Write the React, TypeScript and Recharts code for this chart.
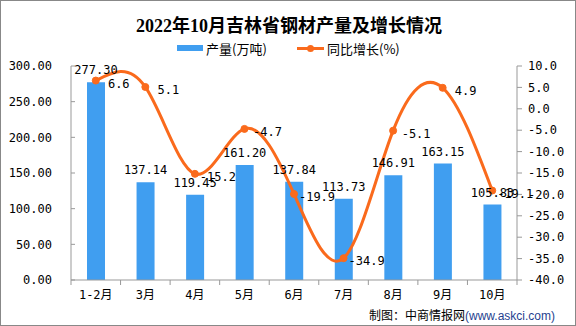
import { ComposedChart, Bar, Line, XAxis, YAxis, LabelList } from 'recharts';

const months = ['1-2月', '3月', '4月', '5月', '6月', '7月', '8月', '9月', '10月'];
const output = [277.3, 137.14, 119.45, 161.2, 137.84, 113.73, 146.91, 163.15, 105.83];
const growth = [6.6, 5.1, -15.2, -4.7, -19.9, -34.9, -5.1, 4.9, -19.1];
const leftTicks = [0, 50, 100, 150, 200, 250, 300];
const rightTicks = [-40, -35, -30, -25, -20, -15, -10, -5, 0, 5, 10];

const data = months.map((m, i) => ({ month: m, output: output[i], growth: growth[i] }));

const BLUE = '#409ef0';
const ORANGE = '#fa6a1c';
const AXIS = '#999';
const NUM_FONT = '"DejaVu Sans Mono", "Noto Sans CJK SC", monospace';
const BAND = (517 - 71) / months.length;

function XTick(props: any) {
  const { x, y, payload, index } = props;
  return (
    <g>
      <line x1={x - BAND / 2} x2={x - BAND / 2} y1={y} y2={y + 5} stroke={AXIS} />
      {index === months.length - 1 && (
        <line x1={x + BAND / 2} x2={x + BAND / 2} y1={y} y2={y + 5} stroke={AXIS} />
      )}
      <text x={x} y={y + 15} dy="0.35em" textAnchor="middle" fontSize={12} fontFamily={NUM_FONT} fill="#000">
        {payload.value}
      </text>
    </g>
  );
}

function LeftTick(props: any) {
  const { x, y, payload } = props;
  return (
    <g>
      <line x1={x} x2={x + 4} y1={y} y2={y} stroke={AXIS} />
      <text x={x - 19} y={y} dy="0.35em" textAnchor="end" fontSize={12} fontFamily={NUM_FONT} fill="#000">
        {Number(payload.value).toFixed(2)}
      </text>
    </g>
  );
}

function RightTick(props: any) {
  const { x, y, payload } = props;
  return (
    <g>
      <line x1={x} x2={x + 5} y1={y} y2={y} stroke={AXIS} />
      <text x={x + 11} y={y} dy="0.35em" textAnchor="start" fontSize={12} fontFamily={NUM_FONT} fill="#000">
        {Number(payload.value).toFixed(1)}
      </text>
    </g>
  );
}

function GrowthLabel(props: any) {
  const { x, y, value } = props;
  return (
    <text x={x + 23} y={y + 3} dy="0.35em" textAnchor="middle" fontSize={12} fontFamily={NUM_FONT} fill="#000">
      {Number(value).toFixed(1)}
    </text>
  );
}

export default function App() {
  return (
    <div
      style={{
        position: 'absolute',
        left: 0,
        top: 0,
        width: 576,
        height: 326,
        background: '#fff',
        boxSizing: 'border-box',
        border: '1px solid #888',
        fontFamily: '"Noto Sans CJK SC", sans-serif',
      }}
    >
      <div
        style={{
          position: 'absolute',
          top: 13,
          left: 0,
          width: 576,
          textAlign: 'center',
          fontSize: 18,
          fontWeight: 'bold',
          lineHeight: '24px',
          fontFamily: '"Liberation Serif", "Noto Sans CJK SC", serif',
          color: '#000',
        }}
      >
        2022年10月吉林省钢材产量及增长情况
      </div>

      <div style={{ position: 'absolute', left: 176, top: 44, width: 26, height: 6, background: BLUE }} />
      <div style={{ position: 'absolute', left: 205, top: 39, fontSize: 13, lineHeight: '18px', color: '#000' }}>
        产量(万吨)
      </div>
      <div style={{ position: 'absolute', left: 296, top: 46, width: 27, height: 3, background: ORANGE }} />
      <div
        style={{ position: 'absolute', left: 306, top: 44, width: 7, height: 7, borderRadius: 4, background: ORANGE }}
      />
      <div style={{ position: 'absolute', left: 326, top: 39, fontSize: 13, lineHeight: '18px', color: '#000' }}>
        同比增长(%)
      </div>

      <ComposedChart
        width={576}
        height={326}
        data={data}
        margin={{ top: 66, right: 0, left: 0, bottom: 16 }}
        style={{ position: 'absolute', left: -1, top: -1 }}
      >
        <XAxis
          dataKey="month"
          height={30}
          axisLine={{ stroke: AXIS }}
          tickLine={false}
          tickSize={0}
          tickMargin={0}
          interval={0}
          tick={<XTick />}
        />
        <YAxis
          yAxisId="left"
          width={71}
          domain={[0, 300]}
          ticks={leftTicks}
          axisLine={{ stroke: AXIS }}
          tickLine={false}
          tickSize={0}
          tickMargin={0}
          interval={0}
          tick={<LeftTick />}
        />
        <YAxis
          yAxisId="right"
          orientation="right"
          width={59}
          domain={[-40, 10]}
          ticks={rightTicks}
          axisLine={{ stroke: AXIS }}
          tickLine={false}
          tickSize={0}
          tickMargin={0}
          interval={0}
          tick={<RightTick />}
        />
        <Bar yAxisId="left" dataKey="output" fill={BLUE} barSize={18} isAnimationActive={false}>
          <LabelList
            dataKey="output"
            position="top"
            offset={8}
            fontSize={12}
            fontFamily={NUM_FONT}
            fill="#000"
            formatter={(v: any) => Number(v).toFixed(2)}
          />
        </Bar>
        <Line
          yAxisId="right"
          type="natural"
          dataKey="growth"
          stroke={ORANGE}
          strokeWidth={3}
          dot={{ r: 3.5, fill: ORANGE, stroke: ORANGE, strokeWidth: 1 }}
          activeDot={false}
          isAnimationActive={false}
        >
          <LabelList dataKey="growth" content={<GrowthLabel />} />
        </Line>
      </ComposedChart>

      <div style={{ position: 'absolute', left: 368, top: 305, fontSize: 12, lineHeight: '18px', color: '#000', whiteSpace: 'nowrap' }}>
        制图：中商情报网<span style={{ color: '#1f3f8f', fontFamily: '"Liberation Sans", sans-serif' }}>(www.askci.com)</span>
      </div>
    </div>
  );
}
